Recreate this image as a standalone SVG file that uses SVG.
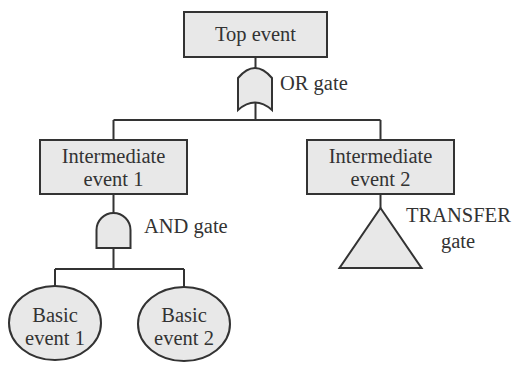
<svg xmlns="http://www.w3.org/2000/svg" width="512" height="365" viewBox="0 0 512 365">
  <style>
    .shape { fill: #e8e8e8; stroke: #333; stroke-width: 2; }
    .wire { fill: none; stroke: #333; stroke-width: 2; }
    text { font-family: "Liberation Serif", "Times New Roman", serif; font-size: 20.5px; fill: #333; }
    .c { text-anchor: middle; }
  </style>
  <rect width="512" height="365" fill="#fff"/>

  <!-- connectors -->
  <g id="connectors" class="wire">
    <path d="M255.5 57V68.5M255.5 102V120M113.5 120H380.5M113.5 120V140M380.5 120V140"/>
    <path d="M113.5 194V213M113.5 248V269M55 269H184M55 269V286M184 269V287"/>
    <path d="M380.5 194V208"/>
  </g>

  <g id="top-event">
    <rect class="shape" x="184" y="12" width="143" height="45"/>
    <text class="c" x="255.5" y="41">Top event</text>
  </g>

  <g id="or-gate">
    <path class="shape" d="M238 110V78Q255 58 272 78V110Q255 95 238 110Z"/>
    <text x="280" y="90">OR gate</text>
  </g>

  <g id="intermediate-1">
    <rect class="shape" x="40" y="140" width="147" height="54"/>
    <text class="c" x="113.5" y="162.5">Intermediate</text>
    <text class="c" x="113.5" y="185.5">event 1</text>
  </g>

  <g id="intermediate-2">
    <rect class="shape" x="307" y="140" width="147" height="54"/>
    <text class="c" x="380.5" y="162.5">Intermediate</text>
    <text class="c" x="380.5" y="185.5">event 2</text>
  </g>

  <g id="and-gate">
    <path class="shape" d="M96.5 248V230A17 17 0 0 1 130.5 230V248Z"/>
    <text x="144" y="233">AND gate</text>
  </g>

  <g id="transfer-gate">
    <path class="shape" d="M380.5 208L421.5 268H339.5Z"/>
    <text x="406" y="222">TRANSFER</text>
    <text x="458" y="248" class="c">gate</text>
  </g>

  <g id="basic-1">
    <ellipse class="shape" cx="55" cy="323" rx="46" ry="37"/>
    <text class="c" x="55" y="321.5">Basic</text>
    <text class="c" x="55" y="344.5">event 1</text>
  </g>

  <g id="basic-2">
    <ellipse class="shape" cx="184" cy="324" rx="46" ry="37"/>
    <text class="c" x="184" y="321.5">Basic</text>
    <text class="c" x="184" y="344.5">event 2</text>
  </g>
</svg>
